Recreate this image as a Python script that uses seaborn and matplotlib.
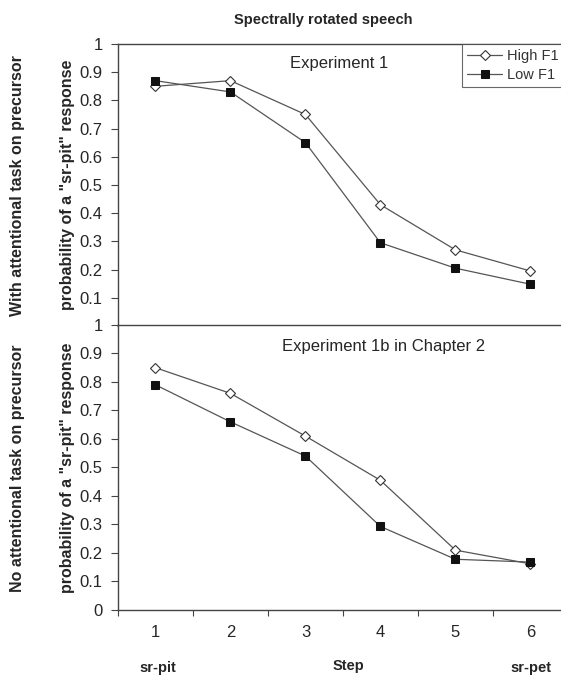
import matplotlib
matplotlib.use("Agg")
import matplotlib.pyplot as plt
import seaborn as sns
import pandas as pd
import numpy as np

sns.set_style("white")
plt.rcParams['font.family'] = ['Liberation Sans', 'DejaVu Sans']

steps = [1, 2, 3, 4, 5, 6]
series_names = ["High F1", "Low F1"]
exp1_high = [0.85, 0.87, 0.75, 0.43, 0.27, 0.195]
exp1_low = [0.87, 0.83, 0.65, 0.295, 0.205, 0.148]
exp1b_high = [0.85, 0.76, 0.61, 0.455, 0.21, 0.162]
exp1b_low = [0.79, 0.66, 0.54, 0.293, 0.178, 0.168]
top_yticks = [0.1, 0.2, 0.3, 0.4, 0.5, 0.6, 0.7, 0.8, 0.9, 1.0]
bot_yticks = [0, 0.1, 0.2, 0.3, 0.4, 0.5, 0.6, 0.7, 0.8, 0.9, 1.0]

fig = plt.figure(figsize=(5.61, 6.78), dpi=100)
ax1 = fig.add_axes([0.2103, 0.5192, 0.802, 0.4159])
ax2 = fig.add_axes([0.2103, 0.1003, 0.802, 0.4204])

line_col = "#555555"
edge_col = "#111111"

def draw(ax, high, low, legend):
    df = pd.DataFrame({"Step": steps * 2,
                       "p": high + low,
                       "series": [series_names[0]] * 6 + [series_names[1]] * 6})
    sns.lineplot(data=df[df.series == "High F1"], x="Step", y="p", ax=ax,
                 color=line_col, lw=0.9, marker="D", markersize=5,
                 markerfacecolor="white", markeredgecolor="#333333",
                 markeredgewidth=0.8, label="High F1" if legend else None,
                 legend=legend)
    sns.lineplot(data=df[df.series == "Low F1"], x="Step", y="p", ax=ax,
                 color=line_col, lw=0.9, marker="s", markersize=6,
                 markerfacecolor=edge_col, markeredgecolor=edge_col,
                 label="Low F1" if legend else None, legend=legend)
    ax.set_xlim(0.5, 6.5)
    ax.set_ylim(0, 1)
    for s in ["left", "top", "bottom"]:
        ax.spines[s].set_visible(True)
        ax.spines[s].set_color("#444444")
        ax.spines[s].set_linewidth(1.0)
    ax.spines["right"].set_visible(False)
    ax.set_xlabel("")
    ax.set_ylabel('probability of a "sr-pit" response', fontsize=11.5,
                  fontweight="bold", labelpad=3)
    ax.tick_params(axis="y", direction="out", length=5, width=0.8,
                   color="#444444", labelsize=12, pad=6, left=True)

draw(ax1, exp1_high, exp1_low, True)
draw(ax2, exp1b_high, exp1b_low, False)

def fmt(v):
    return "1" if v == 1.0 else ("0" if v == 0 else f"{v:.1f}")

ax1.set_yticks(top_yticks)
ax1.set_yticklabels([fmt(v) for v in top_yticks])
ax2.set_yticks(bot_yticks)
ax2.set_yticklabels([fmt(v) for v in bot_yticks])

ax1.set_xticks([])
ax2.set_xticks([0.5, 1.5, 2.5, 3.5, 4.5, 5.5, 6.5])
ax2.set_xticklabels([])
ax2.set_xticks(steps, minor=True)
ax2.set_xticklabels([str(s) for s in steps], minor=True)
ax2.tick_params(axis="x", which="major", direction="out", length=4,
                width=0.8, color="#444444", bottom=True)
ax2.tick_params(axis="x", which="minor", length=0, labelsize=12, pad=11)

ax1.text(0.491, 0.93, "Experiment 1", transform=ax1.transAxes,
         ha="center", va="center", fontsize=12)
ax2.text(0.59, 0.923, "Experiment 1b in Chapter 2", transform=ax2.transAxes,
         ha="center", va="center", fontsize=12)

leg = ax1.legend(loc="upper right", bbox_to_anchor=(0.99, 1.0),
                 frameon=True, fancybox=False, fontsize=10.5,
                 handlelength=2.4, handletextpad=0.3, borderpad=0.35,
                 labelspacing=0.35, borderaxespad=0.0)
leg.get_frame().set_edgecolor("#444444")
leg.get_frame().set_linewidth(0.8)
for t in leg.get_texts():
    t.set_color("#333333")

fig.text(0.576, 0.9705, "Spectrally rotated speech", ha="center", va="center",
         fontsize=10.5, fontweight="bold")
fig.text(0.032, 0.727, "With attentional task on precursor", rotation=90,
         ha="center", va="center", fontsize=11.5, fontweight="bold")
fig.text(0.032, 0.31, "No attentional task on precursor", rotation=90,
         ha="center", va="center", fontsize=11.5, fontweight="bold")
fig.text(0.282, 0.0147, "sr-pit", ha="center", va="center", fontsize=10.5,
         fontweight="bold")
fig.text(0.622, 0.0177, "Step", ha="center", va="center", fontsize=10.5,
         fontweight="bold")
fig.text(0.9465, 0.0147, "sr-pet", ha="center", va="center", fontsize=10.5,
         fontweight="bold")

fig.savefig("out.png", dpi=100)
